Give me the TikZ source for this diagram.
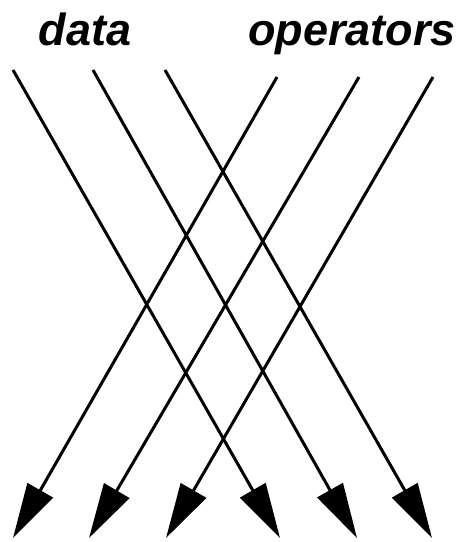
\documentclass[tikz,border=0pt]{standalone}
\usepackage{fontspec}
\setmainfont{Liberation Sans}
\usetikzlibrary{arrows.meta}
\tikzset{
  flow/.style={line width=3pt,-{Triangle[length=55pt,width=29pt]}},
  lbl/.style={font=\fontsize{45}{45}\selectfont\bfseries\itshape,anchor=base,inner sep=0pt}
}
\begin{document}
\begin{tikzpicture}[x=1pt,y=-1pt]
\useasboundingbox (0,0) rectangle (466,542);
\node[lbl] (data) at (85,45) {data};
\node[lbl] (ops) at (352,45) {operators};
% down-right (data) lines
\coordinate (d1s) at (13,70);  \coordinate (d1e) at (280,538);
\coordinate (d2s) at (93,70);  \coordinate (d2e) at (357,538);
\coordinate (d3s) at (165,70); \coordinate (d3e) at (432,538);
% down-left (operator) lines
\coordinate (o1s) at (277,77); \coordinate (o1e) at (13,538);
\coordinate (o2s) at (359,77); \coordinate (o2e) at (89,538);
\coordinate (o3s) at (433,77); \coordinate (o3e) at (166,538);
\draw[flow] (d1s) -- (d1e);
\draw[flow] (d2s) -- (d2e);
\draw[flow] (d3s) -- (d3e);
\draw[flow] (o1s) -- (o1e);
\draw[flow] (o2s) -- (o2e);
\draw[flow] (o3s) -- (o3e);
\end{tikzpicture}
\end{document}
